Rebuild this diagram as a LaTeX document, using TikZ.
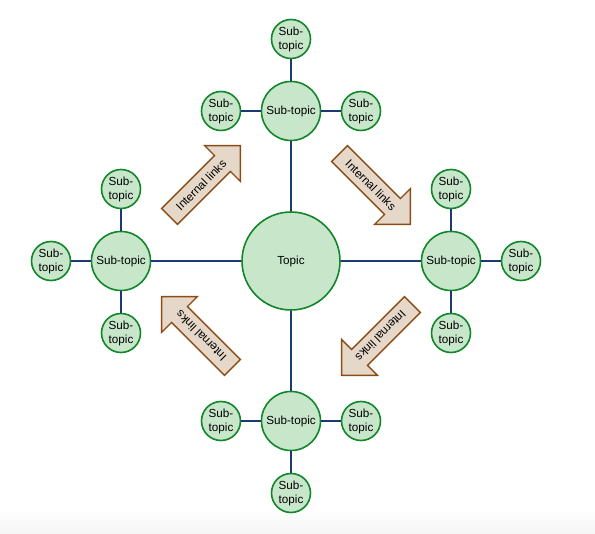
\documentclass[tikz,border=0pt]{standalone}
\usepackage{fontspec}
\setmainfont{Liberation Sans}
\usetikzlibrary{shapes.arrows}

\definecolor{topicfill}{HTML}{C8E6CA}
\definecolor{topicdraw}{HTML}{12862A}
\definecolor{linkline}{HTML}{1B3A75}
\definecolor{arrowfill}{HTML}{E6D8C9}
\definecolor{arrowdraw}{HTML}{8A4B16}

\tikzset{
	topic/.style={circle, draw=topicdraw, fill=topicfill, line width=1.6pt,
		inner sep=0pt, minimum size=98pt, align=center},
	subtopic/.style={topic, minimum size=59pt},
	leaf/.style={topic, minimum size=39pt},
	link/.style={draw=linkline, line width=1.6pt},
	intlink/.style={single arrow, draw=arrowdraw, fill=arrowfill, line width=1.4pt,
		minimum height=100pt, single arrow head extend=14pt, inner xsep=4pt,
		inner ysep=6.2pt, text height=8.6pt, text depth=0pt}
}

\begin{document}
\begin{tikzpicture}[x=1pt, y=-1pt, font=\fontsize{11.7}{14}\selectfont]
		\useasboundingbox (0,0) rectangle (595,534);
		\shade[top color=white, bottom color=black!4] (0,508) rectangle (595,534);

		% centre and the four sub-topics
		\node[topic] (topic) at (291,261) {Topic};
		\foreach \nm/\x/\y in {n/291/111, e/451/261, s/291/421, w/121/261}{
			\node[subtopic] (sub-\nm) at (\x,\y) {Sub-topic};
		}

		% leaves round each sub-topic
		\foreach \nm/\k/\x/\y in {n/a/291/39, n/b/221/111, n/c/361/111,
			e/a/451/189, e/b/521/261, e/c/451/333,
			s/a/221/421, s/b/361/421, s/c/291/493,
			w/a/121/189, w/b/51/261, w/c/121/333}{
			\node[leaf] (leaf-\nm-\k) at (\x,\y) {Sub-\\topic};
		}

		\foreach \nm in {n,e,s,w}{
			\draw[link] (topic) -- (sub-\nm);
			\foreach \k in {a,b,c}{
				\draw[link] (sub-\nm) -- (leaf-\nm-\k);
			}
		}

		% internal links
		\node[intlink, rotate=45] (link-nw) at (201,185) {Internal links};
		\node[intlink, rotate=-45] (link-ne) at (371,185) {Internal links};
		\node[intlink, rotate=225] (link-se) at (381,336) {Internal links};
		\node[intlink, rotate=135] (link-sw) at (201,336) {Internal links};
	\end{tikzpicture}
\end{document}
